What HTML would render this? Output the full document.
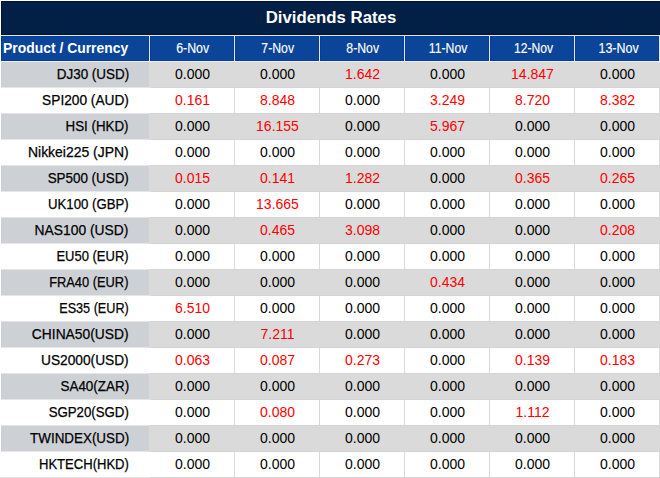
<!DOCTYPE html>
<html><head><meta charset="utf-8"><title>Dividends Rates</title><style>
*{margin:0;padding:0;box-sizing:border-box}
html,body{width:660px;height:478px;overflow:hidden;background:#fff}
body{position:relative;font-family:"Liberation Sans",sans-serif;}
div{position:absolute}
span{display:inline-block;white-space:nowrap}
.t{left:1px;top:1px;width:659px;height:34px;background:#021f45;border:1px solid #001436;border-right:0;color:#fff;font-weight:bold;font-size:16.8px;text-align:center;line-height:31px;}
.h{background:#0a4599;border:1px solid #063e9d;}
.hp{left:3.3px;top:36px;height:25px;line-height:25px;color:#fff;font-weight:bold;font-size:14.5px;transform-origin:0 50%;white-space:nowrap}
.hd{top:36px;width:120px;height:25px;line-height:25px;color:#fff;font-size:14px;text-align:center;white-space:nowrap;-webkit-text-stroke:0.15px #fff}
.hd span{transform-origin:50% 50%}
.rowbg{left:149px;width:511px;height:26px;background:#dadada;}
.labbg{left:1px;width:148px;height:25px;background:#cdd1d6;}
.lab{left:0;width:128px;height:25px;line-height:25px;text-align:right;font-size:14.5px;color:#000;white-space:nowrap;-webkit-text-stroke:0.25px #000}
.lab span{transform-origin:100% 50%}
.v{width:84px;height:25px;line-height:25px;text-align:center;font-size:14px;color:#000;}
.v.r{color:#ff0000;}
.vs{width:1px;height:26px;background:#dadada;}
.hs{left:150px;width:510px;height:1px;background:#d4d4d4;}
.hsl{left:1px;width:149px;height:1px;background:#e6e6e6;}
</style></head>
<body>
<div class="t"><span>Dividends Rates</span></div><div class="h" style="left:1px;top:36px;width:148px;height:25px;"></div><div class="hp" style="transform:scaleX(0.9592)">Product / Currency</div><div class="h" style="left:150px;top:36px;width:84px;height:25px;"></div><div class="hd" style="left:132.90px;"><span style="transform:scaleX(0.8835)">6-Nov</span></div><div class="h" style="left:235px;top:36px;width:84px;height:25px;"></div><div class="hd" style="left:218.15px;"><span style="transform:scaleX(0.8755)">7-Nov</span></div><div class="h" style="left:320px;top:36px;width:84px;height:25px;"></div><div class="hd" style="left:303.05px;"><span style="transform:scaleX(0.8755)">8-Nov</span></div><div class="h" style="left:405px;top:36px;width:84px;height:25px;"></div><div class="hd" style="left:388.40px;"><span style="transform:scaleX(0.8753)">11-Nov</span></div><div class="h" style="left:490px;top:36px;width:84px;height:25px;"></div><div class="hd" style="left:473.55px;"><span style="transform:scaleX(0.8665)">12-Nov</span></div><div class="h" style="left:575px;top:36px;width:84px;height:25px;"></div><div class="hd" style="left:558.90px;"><span style="transform:scaleX(0.8909)">13-Nov</span></div><div class="rowbg" style="top:62px;"></div><div class="labbg" style="top:62px;"></div><div class="lab" style="top:62px;width:128.73px"><span style="transform:scaleX(0.9263)">DJ30 (USD)</span></div><div class="v" style="left:150.5px;top:62px;">0.000</div><div class="v" style="left:235.5px;top:62px;">0.000</div><div class="v r" style="left:320.5px;top:62px;">1.642</div><div class="v" style="left:405.5px;top:62px;">0.000</div><div class="v r" style="left:490.5px;top:62px;">14.847</div><div class="v" style="left:575.5px;top:62px;">0.000</div><div class="lab" style="top:88px;width:128.74px"><span style="transform:scaleX(0.9444)">SPI200 (AUD)</span></div><div class="v r" style="left:150.5px;top:88px;">0.161</div><div class="v r" style="left:235.5px;top:88px;">8.848</div><div class="v" style="left:320.5px;top:88px;">0.000</div><div class="v r" style="left:405.5px;top:88px;">3.249</div><div class="v r" style="left:490.5px;top:88px;">8.720</div><div class="v r" style="left:575.5px;top:88px;">8.382</div><div class="rowbg" style="top:114px;"></div><div class="labbg" style="top:114px;"></div><div class="lab" style="top:114px;width:128.72px"><span style="transform:scaleX(0.9179)">HSI (HKD)</span></div><div class="v" style="left:150.5px;top:114px;">0.000</div><div class="v r" style="left:235.5px;top:114px;">16.155</div><div class="v" style="left:320.5px;top:114px;">0.000</div><div class="v r" style="left:405.5px;top:114px;">5.967</div><div class="v" style="left:490.5px;top:114px;">0.000</div><div class="v" style="left:575.5px;top:114px;">0.000</div><div class="lab" style="top:140px;width:128.76px"><span style="transform:scaleX(0.9621)">Nikkei225 (JPN)</span></div><div class="v" style="left:150.5px;top:140px;">0.000</div><div class="v" style="left:235.5px;top:140px;">0.000</div><div class="v" style="left:320.5px;top:140px;">0.000</div><div class="v" style="left:405.5px;top:140px;">0.000</div><div class="v" style="left:490.5px;top:140px;">0.000</div><div class="v" style="left:575.5px;top:140px;">0.000</div><div class="rowbg" style="top:166px;"></div><div class="labbg" style="top:166px;"></div><div class="lab" style="top:166px;width:128.72px"><span style="transform:scaleX(0.9244)">SP500 (USD)</span></div><div class="v r" style="left:150.5px;top:166px;">0.015</div><div class="v r" style="left:235.5px;top:166px;">0.141</div><div class="v r" style="left:320.5px;top:166px;">1.282</div><div class="v" style="left:405.5px;top:166px;">0.000</div><div class="v r" style="left:490.5px;top:166px;">0.365</div><div class="v r" style="left:575.5px;top:166px;">0.265</div><div class="lab" style="top:192px;width:128.71px"><span style="transform:scaleX(0.9092)">UK100 (GBP)</span></div><div class="v" style="left:150.5px;top:192px;">0.000</div><div class="v r" style="left:235.5px;top:192px;">13.665</div><div class="v" style="left:320.5px;top:192px;">0.000</div><div class="v" style="left:405.5px;top:192px;">0.000</div><div class="v" style="left:490.5px;top:192px;">0.000</div><div class="v" style="left:575.5px;top:192px;">0.000</div><div class="rowbg" style="top:218px;"></div><div class="labbg" style="top:218px;"></div><div class="lab" style="top:218px;width:128.75px"><span style="transform:scaleX(0.9531)">NAS100 (USD)</span></div><div class="v" style="left:150.5px;top:218px;">0.000</div><div class="v r" style="left:235.5px;top:218px;">0.465</div><div class="v r" style="left:320.5px;top:218px;">3.098</div><div class="v" style="left:405.5px;top:218px;">0.000</div><div class="v" style="left:490.5px;top:218px;">0.000</div><div class="v r" style="left:575.5px;top:218px;">0.208</div><div class="lab" style="top:244px;width:128.69px"><span style="transform:scaleX(0.8949)">EU50 (EUR)</span></div><div class="v" style="left:150.5px;top:244px;">0.000</div><div class="v" style="left:235.5px;top:244px;">0.000</div><div class="v" style="left:320.5px;top:244px;">0.000</div><div class="v" style="left:405.5px;top:244px;">0.000</div><div class="v" style="left:490.5px;top:244px;">0.000</div><div class="v" style="left:575.5px;top:244px;">0.000</div><div class="rowbg" style="top:270px;"></div><div class="labbg" style="top:270px;"></div><div class="lab" style="top:270px;width:128.69px"><span style="transform:scaleX(0.8864)">FRA40 (EUR)</span></div><div class="v" style="left:150.5px;top:270px;">0.000</div><div class="v" style="left:235.5px;top:270px;">0.000</div><div class="v" style="left:320.5px;top:270px;">0.000</div><div class="v r" style="left:405.5px;top:270px;">0.434</div><div class="v" style="left:490.5px;top:270px;">0.000</div><div class="v" style="left:575.5px;top:270px;">0.000</div><div class="lab" style="top:296px;width:128.67px"><span style="transform:scaleX(0.8718)">ES35 (EUR)</span></div><div class="v r" style="left:150.5px;top:296px;">6.510</div><div class="v" style="left:235.5px;top:296px;">0.000</div><div class="v" style="left:320.5px;top:296px;">0.000</div><div class="v" style="left:405.5px;top:296px;">0.000</div><div class="v" style="left:490.5px;top:296px;">0.000</div><div class="v" style="left:575.5px;top:296px;">0.000</div><div class="rowbg" style="top:322px;"></div><div class="labbg" style="top:322px;"></div><div class="lab" style="top:322px;width:128.75px"><span style="transform:scaleX(0.9520)">CHINA50(USD)</span></div><div class="v" style="left:150.5px;top:322px;">0.000</div><div class="v r" style="left:235.5px;top:322px;">7.211</div><div class="v" style="left:320.5px;top:322px;">0.000</div><div class="v" style="left:405.5px;top:322px;">0.000</div><div class="v" style="left:490.5px;top:322px;">0.000</div><div class="v" style="left:575.5px;top:322px;">0.000</div><div class="lab" style="top:348px;width:128.75px"><span style="transform:scaleX(0.9462)">US2000(USD)</span></div><div class="v r" style="left:150.5px;top:348px;">0.063</div><div class="v r" style="left:235.5px;top:348px;">0.087</div><div class="v r" style="left:320.5px;top:348px;">0.273</div><div class="v" style="left:405.5px;top:348px;">0.000</div><div class="v r" style="left:490.5px;top:348px;">0.139</div><div class="v r" style="left:575.5px;top:348px;">0.183</div><div class="rowbg" style="top:374px;"></div><div class="labbg" style="top:374px;"></div><div class="lab" style="top:374px;width:128.73px"><span style="transform:scaleX(0.9260)">SA40(ZAR)</span></div><div class="v" style="left:150.5px;top:374px;">0.000</div><div class="v" style="left:235.5px;top:374px;">0.000</div><div class="v" style="left:320.5px;top:374px;">0.000</div><div class="v" style="left:405.5px;top:374px;">0.000</div><div class="v" style="left:490.5px;top:374px;">0.000</div><div class="v" style="left:575.5px;top:374px;">0.000</div><div class="lab" style="top:400px;width:128.71px"><span style="transform:scaleX(0.9128)">SGP20(SGD)</span></div><div class="v" style="left:150.5px;top:400px;">0.000</div><div class="v r" style="left:235.5px;top:400px;">0.080</div><div class="v" style="left:320.5px;top:400px;">0.000</div><div class="v" style="left:405.5px;top:400px;">0.000</div><div class="v r" style="left:490.5px;top:400px;">1.112</div><div class="v" style="left:575.5px;top:400px;">0.000</div><div class="rowbg" style="top:426px;"></div><div class="labbg" style="top:426px;"></div><div class="lab" style="top:426px;width:128.72px"><span style="transform:scaleX(0.9245)">TWINDEX(USD)</span></div><div class="v" style="left:150.5px;top:426px;">0.000</div><div class="v" style="left:235.5px;top:426px;">0.000</div><div class="v" style="left:320.5px;top:426px;">0.000</div><div class="v" style="left:405.5px;top:426px;">0.000</div><div class="v" style="left:490.5px;top:426px;">0.000</div><div class="v" style="left:575.5px;top:426px;">0.000</div><div class="lab" style="top:452px;width:128.70px"><span style="transform:scaleX(0.9000)">HKTECH(HKD)</span></div><div class="v" style="left:150.5px;top:452px;">0.000</div><div class="v" style="left:235.5px;top:452px;">0.000</div><div class="v" style="left:320.5px;top:452px;">0.000</div><div class="v" style="left:405.5px;top:452px;">0.000</div><div class="v" style="left:490.5px;top:452px;">0.000</div><div class="v" style="left:575.5px;top:452px;">0.000</div>
<div style="left:0;top:477px;width:1px;height:1px;background:#e6e6e6"></div><div style="left:1px;top:35px;width:659px;height:1px;background:#e6e6e6"></div><div style="left:1px;top:61px;width:659px;height:1px;background:#f0eeea"></div><div style="left:149px;top:36px;width:1px;height:25px;background:#e6e6e6"></div><div style="left:234px;top:36px;width:1px;height:25px;background:#e6e6e6"></div><div style="left:319px;top:36px;width:1px;height:25px;background:#e6e6e6"></div><div style="left:404px;top:36px;width:1px;height:25px;background:#e6e6e6"></div><div style="left:489px;top:36px;width:1px;height:25px;background:#e6e6e6"></div><div style="left:574px;top:36px;width:1px;height:25px;background:#e6e6e6"></div><div style="left:659px;top:36px;width:1px;height:25px;background:#e6e6e6"></div><div class="vs" style="left:234px;top:88px;"></div><div class="vs" style="left:319px;top:88px;"></div><div class="vs" style="left:404px;top:88px;"></div><div class="vs" style="left:489px;top:88px;"></div><div class="vs" style="left:574px;top:88px;"></div><div class="vs" style="left:659px;top:88px;"></div><div class="vs" style="left:234px;top:140px;"></div><div class="vs" style="left:319px;top:140px;"></div><div class="vs" style="left:404px;top:140px;"></div><div class="vs" style="left:489px;top:140px;"></div><div class="vs" style="left:574px;top:140px;"></div><div class="vs" style="left:659px;top:140px;"></div><div class="vs" style="left:234px;top:192px;"></div><div class="vs" style="left:319px;top:192px;"></div><div class="vs" style="left:404px;top:192px;"></div><div class="vs" style="left:489px;top:192px;"></div><div class="vs" style="left:574px;top:192px;"></div><div class="vs" style="left:659px;top:192px;"></div><div class="vs" style="left:234px;top:244px;"></div><div class="vs" style="left:319px;top:244px;"></div><div class="vs" style="left:404px;top:244px;"></div><div class="vs" style="left:489px;top:244px;"></div><div class="vs" style="left:574px;top:244px;"></div><div class="vs" style="left:659px;top:244px;"></div><div class="vs" style="left:234px;top:296px;"></div><div class="vs" style="left:319px;top:296px;"></div><div class="vs" style="left:404px;top:296px;"></div><div class="vs" style="left:489px;top:296px;"></div><div class="vs" style="left:574px;top:296px;"></div><div class="vs" style="left:659px;top:296px;"></div><div class="vs" style="left:234px;top:348px;"></div><div class="vs" style="left:319px;top:348px;"></div><div class="vs" style="left:404px;top:348px;"></div><div class="vs" style="left:489px;top:348px;"></div><div class="vs" style="left:574px;top:348px;"></div><div class="vs" style="left:659px;top:348px;"></div><div class="vs" style="left:234px;top:400px;"></div><div class="vs" style="left:319px;top:400px;"></div><div class="vs" style="left:404px;top:400px;"></div><div class="vs" style="left:489px;top:400px;"></div><div class="vs" style="left:574px;top:400px;"></div><div class="vs" style="left:659px;top:400px;"></div><div class="vs" style="left:234px;top:452px;"></div><div class="vs" style="left:319px;top:452px;"></div><div class="vs" style="left:404px;top:452px;"></div><div class="vs" style="left:489px;top:452px;"></div><div class="vs" style="left:574px;top:452px;"></div><div class="vs" style="left:659px;top:452px;"></div><div class="hs" style="top:87px;"></div><div class="hsl" style="top:87px;"></div><div class="hs" style="top:113px;"></div><div class="hsl" style="top:113px;"></div><div class="hs" style="top:139px;"></div><div class="hsl" style="top:139px;"></div><div class="hs" style="top:165px;"></div><div class="hsl" style="top:165px;"></div><div class="hs" style="top:191px;"></div><div class="hsl" style="top:191px;"></div><div class="hs" style="top:217px;"></div><div class="hsl" style="top:217px;"></div><div class="hs" style="top:243px;"></div><div class="hsl" style="top:243px;"></div><div class="hs" style="top:269px;"></div><div class="hsl" style="top:269px;"></div><div class="hs" style="top:295px;"></div><div class="hsl" style="top:295px;"></div><div class="hs" style="top:321px;"></div><div class="hsl" style="top:321px;"></div><div class="hs" style="top:347px;"></div><div class="hsl" style="top:347px;"></div><div class="hs" style="top:373px;"></div><div class="hsl" style="top:373px;"></div><div class="hs" style="top:399px;"></div><div class="hsl" style="top:399px;"></div><div class="hs" style="top:425px;"></div><div class="hsl" style="top:425px;"></div><div class="hs" style="top:451px;"></div><div class="hsl" style="top:451px;"></div><div class="hs" style="top:477px;"></div><div class="hsl" style="top:477px;"></div>
</body></html>
